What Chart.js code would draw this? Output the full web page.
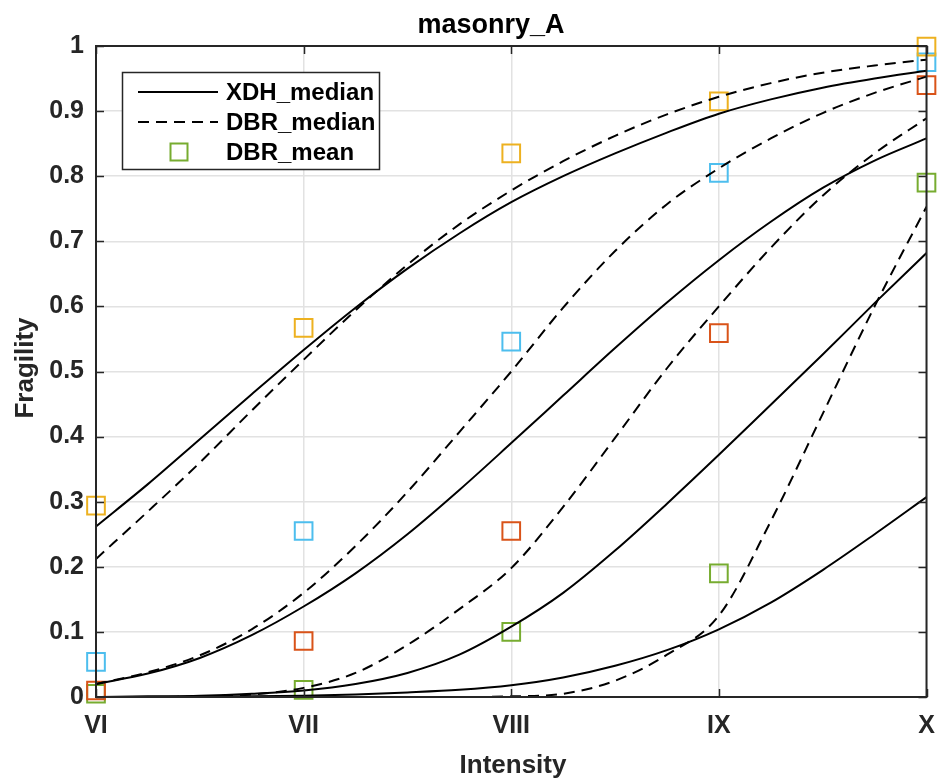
<!DOCTYPE html>
<html>
<head>
<meta charset="utf-8">
<script src="https://cdn.jsdelivr.net/npm/chart.js@4"></script>
<style>
html,body{margin:0;padding:0;background:#fff;}
#wrap{width:941px;height:783px;}
</style>
</head>
<body>
<div id="wrap"><canvas id="c" width="941" height="783"></canvas></div>
<script>
// ---------- data ----------
const intensityValues = [6, 7, 8, 9, 10];
const intensityLabels = ['VI', 'VII', 'VIII', 'IX', 'X'];
const curveX = [6, 6.25, 6.5, 6.75, 7, 7.25, 7.5, 7.75, 8, 8.25, 8.5, 8.75, 9, 9.25, 9.5, 9.75, 10];

// XDH_median (solid)
const xdhDS1 = [0.262, 0.327, 0.396, 0.465, 0.533, 0.598, 0.658, 0.712, 0.76, 0.80, 0.835, 0.867, 0.896, 0.918, 0.936, 0.95, 0.962];
const xdhDS2 = [0.02, 0.036, 0.06, 0.095, 0.139, 0.19, 0.25, 0.318, 0.39, 0.463, 0.536, 0.606, 0.671, 0.73, 0.782, 0.824, 0.858];
const xdhDS3 = [0.0, 0.001, 0.002, 0.005, 0.01, 0.02, 0.037, 0.065, 0.108, 0.16, 0.225, 0.297, 0.372, 0.449, 0.526, 0.605, 0.682];
const xdhDS4 = [0.0, 0.0, 0.0005, 0.001, 0.002, 0.004, 0.007, 0.011, 0.018, 0.03, 0.048, 0.072, 0.104, 0.145, 0.195, 0.25, 0.307];

// DBR_median (dashed)
const dbrDS1 = [0.212, 0.285, 0.36, 0.44, 0.518, 0.594, 0.664, 0.726, 0.778, 0.823, 0.862, 0.895, 0.922, 0.943, 0.959, 0.97, 0.979];
const dbrDS2 = [0.02, 0.038, 0.064, 0.104, 0.16, 0.232, 0.315, 0.407, 0.5, 0.598, 0.685, 0.757, 0.812, 0.858, 0.897, 0.928, 0.953];
const dbrDS3 = [0.0, 0.0, 0.001, 0.004, 0.014, 0.037, 0.08, 0.135, 0.198, 0.292, 0.398, 0.505, 0.60, 0.69, 0.77, 0.835, 0.889];
const dbrDS4 = [0.0, 0.0, 0.0, 0.0, 0.0, 0.0, 0.0, 0.0, 0.001, 0.005, 0.025, 0.065, 0.125, 0.27, 0.435, 0.60, 0.753];

// DBR_mean (squares) at VI..X
const meanDS1 = [0.294, 0.567, 0.835, 0.915, 0.999];
const meanDS2 = [0.054, 0.255, 0.546, 0.805, 0.975];
const meanDS3 = [0.010, 0.086, 0.255, 0.559, 0.940];
const meanDS4 = [0.005, 0.011, 0.100, 0.190, 0.790];

const meanColors = ['#EDB120', '#4DBEEE', '#D95319', '#77AC30'];

// ---------- build ----------
function pts(xs, ys) { return xs.map((x, i) => ({x: x, y: ys[i]})); }
function lineDS(ys, dashed) {
  return {
    data: pts(curveX, ys), borderColor: '#000', borderWidth: 2,
    borderDash: dashed ? [11, 7] : [], pointRadius: 0, fill: false,
    cubicInterpolationMode: 'monotone', showLine: true
  };
}
function meanDS(ys, color) {
  return {
    data: pts(intensityValues, ys), showLine: false, pointStyle: 'rect',
    pointRadius: 12.5, pointHoverRadius: 12.5, borderColor: color, pointBorderWidth: 2,
    backgroundColor: 'rgba(0,0,0,0)', clip: false
  };
}

const datasets = [
  lineDS(xdhDS1, false), lineDS(xdhDS2, false), lineDS(xdhDS3, false), lineDS(xdhDS4, false),
  lineDS(dbrDS1, true), lineDS(dbrDS2, true), lineDS(dbrDS3, true), lineDS(dbrDS4, true),
  meanDS(meanDS1, meanColors[0]), meanDS(meanDS2, meanColors[1]),
  meanDS(meanDS3, meanColors[2]), meanDS(meanDS4, meanColors[3])
];

const FONT = '"Liberation Sans", Arial, Helvetica, sans-serif';
const AXIS = '#262626';

const decorPlugin = {
  id: 'decor',
  afterDraw(chart) {
    const ctx = chart.ctx;
    const a = chart.chartArea;
    const xs = chart.scales.x, ys = chart.scales.y;
    ctx.save();
    // frame
    ctx.strokeStyle = AXIS;
    ctx.lineWidth = 2;
    ctx.strokeRect(a.left, a.top, a.right - a.left, a.bottom - a.top);
    // inward ticks
    const tl = 8;
    ctx.lineWidth = 1.5;
    ctx.beginPath();
    intensityValues.forEach(v => {
      const px = Math.round(xs.getPixelForValue(v)) + 0.5;
      ctx.moveTo(px, a.bottom); ctx.lineTo(px, a.bottom - tl);
      ctx.moveTo(px, a.top); ctx.lineTo(px, a.top + tl);
    });
    for (let i = 0; i <= 10; i++) {
      const py = Math.round(ys.getPixelForValue(i / 10)) + 0.5;
      ctx.moveTo(a.left, py); ctx.lineTo(a.left + tl, py);
      ctx.moveTo(a.right, py); ctx.lineTo(a.right - tl, py);
    }
    ctx.stroke();

    // title & axis titles
    ctx.fillStyle = '#000';
    ctx.font = 'bold 27px ' + FONT;
    ctx.textAlign = 'center';
    ctx.textBaseline = 'alphabetic';
    ctx.fillText('masonry_A', 491, 33);
    ctx.fillStyle = AXIS;
    ctx.font = 'bold 26px ' + FONT;
    ctx.fillText('Intensity', 513, 773);
    ctx.save();
    ctx.translate(33, 368);
    ctx.rotate(-Math.PI / 2);
    ctx.fillText('Fragility', 0, 0);
    ctx.restore();

    // legend
    const L = 122, T = 72, R = 379, B = 169;
    ctx.fillStyle = '#fff';
    ctx.fillRect(L, T, R - L, B - T);
    ctx.strokeStyle = AXIS;
    ctx.lineWidth = 1.5;
    ctx.strokeRect(L + 0.5, T + 0.5, R - L, B - T);
    const rows = [92, 122, 152];
    ctx.strokeStyle = '#000';
    ctx.lineWidth = 2;
    ctx.beginPath(); ctx.moveTo(138, rows[0]); ctx.lineTo(218, rows[0]); ctx.stroke();
    ctx.setLineDash([11, 7]);
    ctx.beginPath(); ctx.moveTo(138, rows[1]); ctx.lineTo(218, rows[1]); ctx.stroke();
    ctx.setLineDash([]);
    ctx.strokeStyle = meanColors[3];
    ctx.lineWidth = 2;
    ctx.strokeRect(179 - 8.5, rows[2] - 8.5, 17, 17);
    ctx.fillStyle = '#000';
    ctx.font = 'bold 24px ' + FONT;
    ctx.textAlign = 'left';
    ctx.textBaseline = 'middle';
    ctx.fillText('XDH_median', 226, rows[0] + 1);
    ctx.fillText('DBR_median', 226, rows[1] + 1);
    ctx.fillText('DBR_mean', 226, rows[2] + 1);
    ctx.restore();
  }
};

new Chart(document.getElementById('c'), {
  type: 'scatter',
  data: { datasets: datasets },
  options: {
    responsive: false,
    animation: false,
    devicePixelRatio: 1,
    layout: { padding: { top: 46, right: 13, left: 0, bottom: 0 } },
    plugins: { legend: { display: false }, title: { display: false }, tooltip: { enabled: false } },
    scales: {
      x: {
        type: 'linear', min: 6, max: 10,
        afterBuildTicks: (s) => { s.ticks = intensityValues.map(v => ({value: v})); },
        afterFit: (s) => { s.height = 86; s.paddingLeft = 0; s.paddingRight = 0; },
        ticks: {
          callback: (v) => intensityLabels[intensityValues.indexOf(v)] || '',
          color: AXIS, font: { family: FONT, size: 25, weight: 'bold' }, padding: 14, maxRotation: 0
        },
        grid: { color: '#e2e2e2', lineWidth: 1.5, drawTicks: false },
        border: { display: false }
      },
      y: {
        min: 0, max: 1,
        afterFit: (s) => { s.width = 96; s.paddingTop = 0; s.paddingBottom = 0; },
        ticks: {
          stepSize: 0.1,
          callback: (v) => String(Math.round(v * 10) / 10),
          color: AXIS, font: { family: FONT, size: 25, weight: 'bold' }, padding: 12
        },
        grid: { color: '#e2e2e2', lineWidth: 1.5, drawTicks: false },
        border: { display: false }
      }
    }
  },
  plugins: [decorPlugin]
});
</script>
</body>
</html>
